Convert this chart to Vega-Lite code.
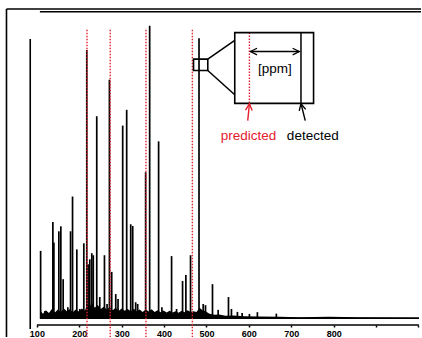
{
  "$schema": "https://vega.github.io/schema/vega-lite/v6.json",
  "width": 422,
  "height": 338,
  "autosize": {"type": "fit", "contains": "padding"},
  "padding": 0,
  "background": "white",
  "config": {"view": {"stroke": null}},
  "datasets": {
    "peaks": [
      {"mz": 108.8, "I": 23.1}, {"mz": 118.9, "I": 2.5}, {"mz": 137.7, "I": 33.0}, {"mz": 140.1, "I": 26.0},
      {"mz": 151.8, "I": 29.8}, {"mz": 156.5, "I": 31.5}, {"mz": 162.0, "I": 13.4}, {"mz": 173.0, "I": 3.8},
      {"mz": 179.4, "I": 29.8}, {"mz": 184.1, "I": 41.7}, {"mz": 194.2, "I": 23.6}, {"mz": 201.2, "I": 3.2},
      {"mz": 210.7, "I": 25.7}, {"mz": 217.7, "I": 91.9}, {"mz": 220.8, "I": 18.5}, {"mz": 224.8, "I": 20.2},
      {"mz": 229.5, "I": 22.3}, {"mz": 233.0, "I": 21.6}, {"mz": 241.2, "I": 69.2}, {"mz": 248.3, "I": 7.3},
      {"mz": 259.4, "I": 21.6}, {"mz": 265.5, "I": 4.9}, {"mz": 271.1, "I": 81.7}, {"mz": 276.5, "I": 15.9},
      {"mz": 286.0, "I": 8.3}, {"mz": 291.4, "I": 6.6}, {"mz": 302.4, "I": 66.0}, {"mz": 311.8, "I": 71.4},
      {"mz": 321.3, "I": 32.2}, {"mz": 326.0, "I": 31.6}, {"mz": 333.0, "I": 5.5}, {"mz": 337.7, "I": 4.9},
      {"mz": 356.5, "I": 50.0}, {"mz": 366.0, "I": 100.2}, {"mz": 387.1, "I": 60.6}, {"mz": 394.9, "I": 3.8},
      {"mz": 417.7, "I": 21.3}, {"mz": 429.5, "I": 3.2}, {"mz": 443.6, "I": 12.8}, {"mz": 451.4, "I": 14.8},
      {"mz": 462.4, "I": 21.6}, {"mz": 482.4, "I": 95.9}, {"mz": 492.3, "I": 4.9}, {"mz": 497.7, "I": 4.5},
      {"mz": 514.2, "I": 11.7}, {"mz": 527.6, "I": 2.9}, {"mz": 551.9, "I": 7.3}, {"mz": 558.9, "I": 3.2},
      {"mz": 573.0, "I": 2.2}, {"mz": 584.1, "I": 1.8}, {"mz": 601.3, "I": 1.5}, {"mz": 620.1, "I": 2.1},
      {"mz": 664.8, "I": 1.6}
    ],
    "noise": [
      {"mz": 107.1, "I": 0}, {"mz": 109.5, "I": 2.4}, {"mz": 114.2, "I": 1.6}, {"mz": 121.2, "I": 2.8},
      {"mz": 128.3, "I": 1.8}, {"mz": 135.4, "I": 3.2}, {"mz": 142.4, "I": 2.0}, {"mz": 149.5, "I": 3.0},
      {"mz": 156.5, "I": 2.2}, {"mz": 163.6, "I": 3.4}, {"mz": 170.7, "I": 2.4}, {"mz": 177.7, "I": 3.2},
      {"mz": 184.8, "I": 2.2}, {"mz": 191.8, "I": 3.0}, {"mz": 198.9, "I": 2.3}, {"mz": 206.0, "I": 3.4},
      {"mz": 213.0, "I": 2.6}, {"mz": 220.1, "I": 5.0}, {"mz": 224.8, "I": 4.0}, {"mz": 229.5, "I": 5.5},
      {"mz": 236.5, "I": 3.6}, {"mz": 243.6, "I": 4.6}, {"mz": 250.7, "I": 3.2}, {"mz": 257.7, "I": 4.0},
      {"mz": 264.8, "I": 3.0}, {"mz": 271.8, "I": 3.8}, {"mz": 278.9, "I": 2.8}, {"mz": 286.0, "I": 3.6},
      {"mz": 293.0, "I": 2.6}, {"mz": 300.1, "I": 3.4}, {"mz": 307.1, "I": 2.6}, {"mz": 314.2, "I": 3.2},
      {"mz": 321.3, "I": 2.4}, {"mz": 328.3, "I": 3.3}, {"mz": 335.4, "I": 2.4}, {"mz": 342.4, "I": 3.0},
      {"mz": 349.5, "I": 2.2}, {"mz": 356.5, "I": 3.0}, {"mz": 363.6, "I": 2.3}, {"mz": 370.7, "I": 3.1},
      {"mz": 377.7, "I": 2.2}, {"mz": 384.8, "I": 2.8}, {"mz": 391.8, "I": 2.1}, {"mz": 398.9, "I": 2.7},
      {"mz": 406.0, "I": 2.0}, {"mz": 413.0, "I": 2.6}, {"mz": 420.1, "I": 2.0}, {"mz": 427.1, "I": 2.4},
      {"mz": 434.2, "I": 1.9}, {"mz": 441.3, "I": 2.6}, {"mz": 448.3, "I": 2.1}, {"mz": 455.4, "I": 2.8},
      {"mz": 462.4, "I": 2.2}, {"mz": 469.5, "I": 2.4}, {"mz": 476.6, "I": 2.2}, {"mz": 483.6, "I": 3.6},
      {"mz": 490.7, "I": 2.8}, {"mz": 497.7, "I": 2.4}, {"mz": 507.1, "I": 1.6}, {"mz": 518.9, "I": 1.2},
      {"mz": 530.7, "I": 1.3}, {"mz": 544.8, "I": 0.9}, {"mz": 563.6, "I": 1.0}, {"mz": 589.5, "I": 0.7},
      {"mz": 624.8, "I": 0.6}, {"mz": 671.9, "I": 0.5}, {"mz": 718.9, "I": 0.4}, {"mz": 789.5, "I": 0.5},
      {"mz": 860.1, "I": 0.4}, {"mz": 1001.3, "I": 0.3}
    ],
    "predicted": [
      {"mz": 218.2, "I": 98.8, "I2": -6.4}, {"mz": 273.0, "I": 98.8, "I2": -6.4},
      {"mz": 357.3, "I": 98.8, "I2": -6.4}, {"mz": 466.7, "I": 98.8, "I2": -6.4},
      {"mz": 601.3, "I": 97.84, "I2": 73.59}
    ],
    "frame": [
      {"mz": 28.3, "I": 105.93, "mz2": 28.3, "I2": -6.4},
      {"mz": 28.3, "I": 105.93, "mz2": 1006, "I2": 105.93},
      {"mz": 107.1, "I": 105.0, "mz2": 1006, "I2": 105.0},
      {"mz": 84.3, "I": 95.68, "mz2": 84.3, "I2": -3.67},
      {"mz": 100, "I": -2.3, "mz2": 1001, "I2": -2.3},
      {"mz": 107.1, "I": 0, "mz2": 1001.3, "I2": 0}
    ],
    "boxes": [
      {"mz": 469.5, "mz2": 503.1, "I": 88.75, "I2": 84.86},
      {"mz": 566.7, "mz2": 752.6, "I": 97.84, "I2": 73.59}
    ],
    "connectors": [
      {"mz": 503.1, "I": 88.75, "mz2": 566.7, "I2": 95.17},
      {"mz": 503.1, "I": 84.86, "mz2": 566.7, "I2": 76.57},
      {"mz": 722.9, "I": 97.84, "mz2": 722.9, "I2": 73.59},
      {"mz": 603.6, "I": 91.35, "mz2": 718.9, "I2": 91.35}
    ],
    "labels": [
      {"mz": 661.3, "I": 85.5, "text": "[ppm]", "kind": "note"},
      {"mz": 598.9, "I": 62.57, "text": "predicted", "kind": "predicted"},
      {"mz": 750.7, "I": 62.57, "text": "detected", "kind": "detected"}
    ]
  },
  "encoding": {
    "x": {
      "field": "mz", "type": "quantitative",
      "scale": {"domain": [13, 1006], "nice": false, "zero": false},
      "axis": {
        "values": [100, 200, 300, 400, 500, 600, 700, 800, 900, 1000],
        "format": "d",
        "labelExpr": "datum.value <= 800 ? datum.label : ''",
        "domain": false, "grid": false, "ticks": true, "tickSize": 2, "tickWidth": 1.5, "tickColor": "black",
        "labelFont": "Liberation Sans", "labelFontWeight": "bold", "labelFontSize": 9, "labelColor": "black",
        "labelBaseline": "middle", "labelPadding": 6, "labelOverlap": false, "labelFlush": false,
        "offset": -12, "title": null
      }
    },
    "y": {
      "field": "I", "type": "quantitative",
      "scale": {"domain": [-6.4, 109], "nice": false, "zero": false},
      "axis": null
    }
  },
  "layer": [
    {"data": {"name": "noise"}, "mark": {"type": "area", "color": "black", "interpolate": "linear"}, "encoding": {"y2": {"datum": 0}}},
    {"data": {"name": "peaks"}, "mark": {"type": "rule", "color": "black", "strokeWidth": 1.7}, "encoding": {"y2": {"datum": 0}}},
    {"data": {"name": "frame"}, "mark": {"type": "rule", "color": "black", "strokeWidth": 1.6}, "encoding": {"x2": {"field": "mz2"}, "y2": {"field": "I2"}}},
    {"data": {"name": "predicted"}, "mark": {"type": "rule", "color": "#e5202e", "strokeWidth": 1.4, "strokeDash": [1.5, 1.5]}, "encoding": {"y2": {"field": "I2"}}},
    {"data": {"name": "boxes"}, "mark": {"type": "rect", "fillOpacity": 0, "stroke": "black", "strokeWidth": 1.6}, "encoding": {"x2": {"field": "mz2"}, "y2": {"field": "I2"}}},
    {"data": {"name": "connectors"}, "mark": {"type": "rule", "color": "black", "strokeWidth": 1.5}, "encoding": {"x2": {"field": "mz2"}, "y2": {"field": "I2"}}},
    {"data": {"values": [{"mz": 603.6, "I": 91.35}]}, "mark": {"type": "point", "shape": "M2,-1L0,0L2,1", "filled": false, "stroke": "black", "strokeWidth": 1.3, "size": 44, "opacity": 1}},
    {"data": {"values": [{"mz": 718.9, "I": 91.35}]}, "mark": {"type": "point", "shape": "M-2,-1L0,0L-2,1", "filled": false, "stroke": "black", "strokeWidth": 1.3, "size": 44, "opacity": 1}},
    {"data": {"values": [{"mz": 597.3, "I": 67.69, "mz2": 601.3, "I2": 73.49}]}, "mark": {"type": "rule", "color": "#e5202e", "strokeWidth": 1.4}, "encoding": {"x2": {"field": "mz2"}, "y2": {"field": "I2"}}},
    {"data": {"values": [{"mz": 601.3, "I": 73.49}]}, "mark": {"type": "point", "shape": "M-1,2L0,0L1,2", "filled": false, "stroke": "#e5202e", "strokeWidth": 1.4, "size": 44, "opacity": 1, "angle": 5}},
    {"data": {"values": [{"mz": 733.0, "I": 67.69, "mz2": 722.9, "I2": 73.49}]}, "mark": {"type": "rule", "color": "black", "strokeWidth": 1.4}, "encoding": {"x2": {"field": "mz2"}, "y2": {"field": "I2"}}},
    {"data": {"values": [{"mz": 722.9, "I": 73.49}]}, "mark": {"type": "point", "shape": "M-1,2L0,0L1,2", "filled": false, "stroke": "black", "strokeWidth": 1.4, "size": 44, "opacity": 1, "angle": -13}},
    {"data": {"name": "labels"}, "mark": {"type": "text", "font": "Liberation Sans", "fontSize": 13.5, "baseline": "middle", "align": "center"},
      "encoding": {"text": {"field": "text"}, "color": {"field": "kind", "type": "nominal", "scale": {"domain": ["note", "predicted", "detected"], "range": ["black", "#e5202e", "black"]}, "legend": null}}}
  ]
}
